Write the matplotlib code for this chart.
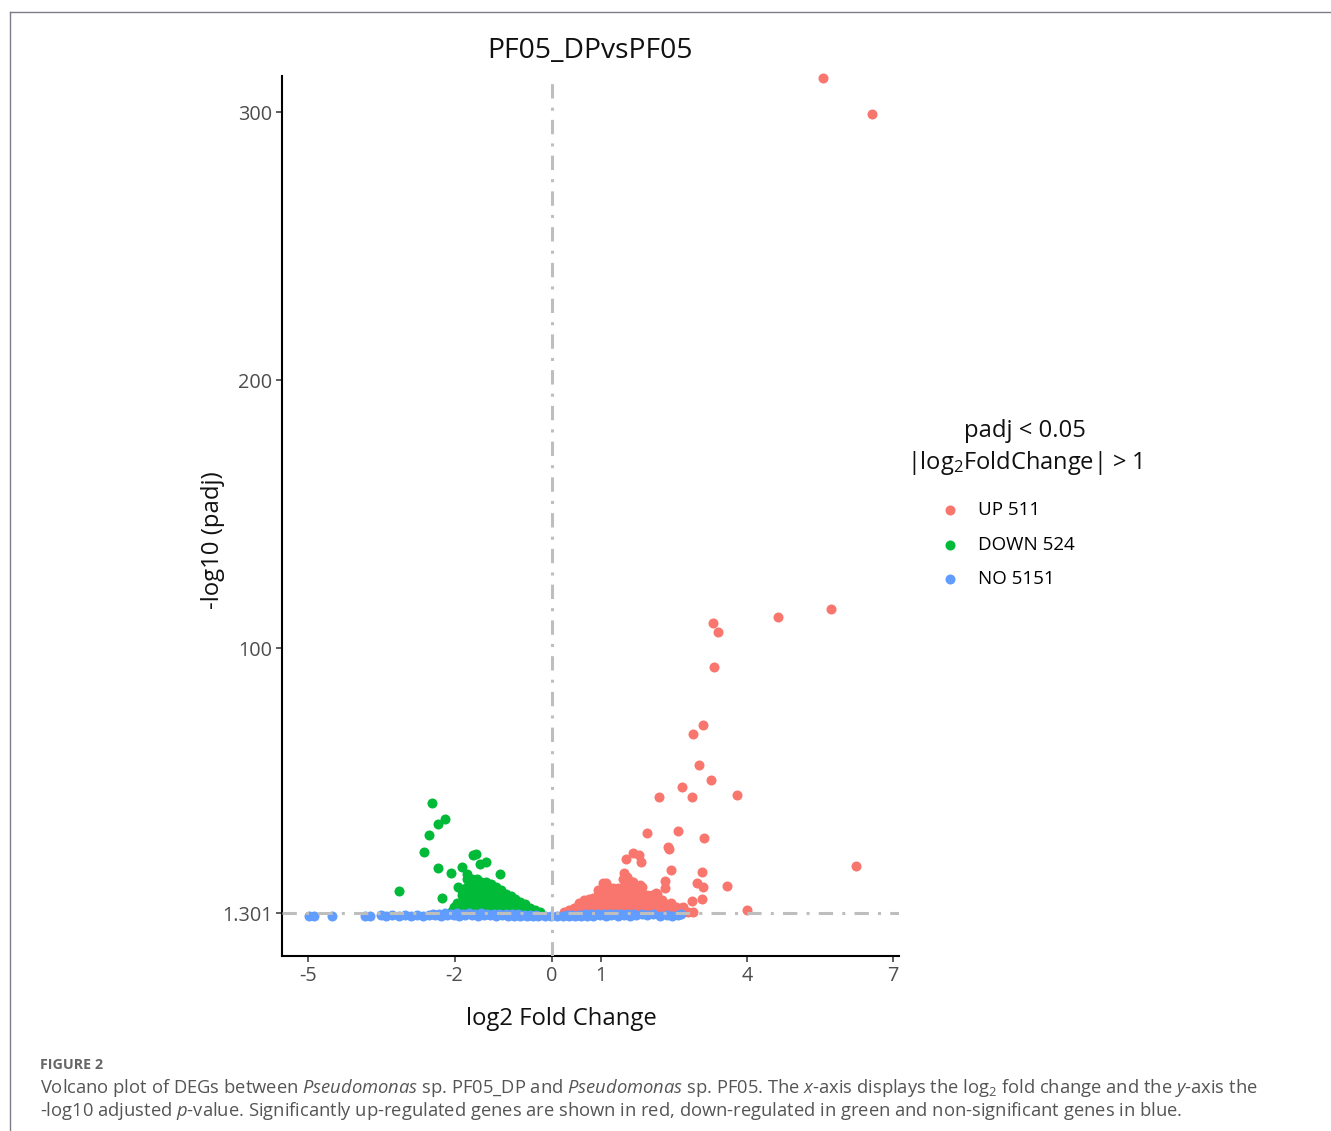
import matplotlib
matplotlib.use("Agg")
import matplotlib.pyplot as plt
from matplotlib.lines import Line2D

plt.rcParams['font.family'] = ['Open Sans', 'DejaVu Sans']
plt.rcParams['mathtext.fontset'] = 'custom'
plt.rcParams['mathtext.rm'] = 'Open Sans'
plt.rcParams['mathtext.it'] = 'Open Sans:italic'
plt.rcParams['mathtext.bf'] = 'Open Sans:bold'

# ---------------- data ----------------
up_x = [5.56, 6.57, 5.73, 4.64, 3.31, 3.41, 3.33, 3.10, 2.90, 3.02, 2.67, 3.26, 2.20, 3.80, 2.87,
        2.59, 1.95, 3.12, 2.38, 2.40, 6.24, 1.66, 1.78, 1.83, 1.52, 2.44, 3.08, 1.48, 1.54, 1.11,
        1.66, 1.81, 2.32, 2.32, 2.98, 3.10, 3.59, 2.14, 3.08, 2.44, 2.87, 2.69, 2.90, 4.00,
        0.25, 0.35, 0.35, 0.45, 0.45, 0.55, 0.55, 0.55, 0.65, 0.65, 0.65, 0.75, 0.75, 0.75,
        0.85, 0.85, 0.85, 0.95, 0.95, 0.95, 0.95, 1.05, 1.05, 1.05, 1.05, 1.05, 1.15, 1.15,
        1.15, 1.15, 1.25, 1.25, 1.25, 1.25, 1.35, 1.35, 1.35, 1.35, 1.45, 1.45, 1.45, 1.45,
        1.45, 1.55, 1.55, 1.55, 1.55, 1.55, 1.65, 1.65, 1.65, 1.65, 1.65, 1.75, 1.75, 1.75,
        1.75, 1.85, 1.85, 1.85, 1.85, 1.95, 1.95, 1.95, 2.05, 2.05, 2.05, 2.15, 2.15, 2.15,
        2.25, 2.25, 2.25, 2.35, 2.35, 2.45, 2.45, 2.55, 2.55, 2.65, 2.65, 2.80]
up_y = [312.9, 299.6, 114.7, 111.8, 109.5, 106.2, 93.1, 71.5, 68.1, 56.6, 48.4, 51.0, 44.6, 45.3, 44.6,
        31.9, 31.2, 29.3, 25.9, 25.2, 18.8, 23.7, 23.0, 20.3, 21.5, 17.4, 16.6, 16.2, 14.7, 12.5,
        12.9, 11.8, 13.2, 10.6, 12.5, 11.0, 11.4, 8.8, 6.4, 5.0, 5.8, 3.5, 1.7, 2.6,
        1.5, 1.6, 2.5, 1.7, 3.0, 1.8, 3.5, 5.0, 2.0, 4.0, 6.0, 2.0, 4.5, 6.5,
        2.0, 4.5, 7.0, 2.0, 5.0, 8.0, 10.0, 2.0, 5.0, 8.0, 11.0, 12.5, 2.0, 5.0,
        8.0, 11.0, 2.0, 5.0, 8.0, 10.5, 2.0, 5.0, 8.0, 10.5, 2.0, 5.0, 8.0, 11.0,
        14.0, 2.0, 5.0, 8.0, 11.0, 14.5, 2.0, 5.0, 8.0, 11.0, 13.0, 2.0, 5.0, 8.0,
        11.0, 2.0, 5.0, 8.0, 11.0, 2.0, 5.0, 8.0, 2.0, 5.0, 8.0, 2.0, 5.0, 8.5,
        2.0, 4.5, 6.0, 2.0, 4.5, 2.0, 4.0, 1.8, 3.5, 1.7, 3.0, 1.6]

down_x = [-2.46, -2.34, -2.20, -2.53, -2.63, -2.34, -3.14, -2.26, -2.07, -1.62, -1.56, -1.85,
          -1.48, -1.36, -1.07, -1.75, -1.93, -1.81, -2.01, -1.58,
          -2.05, -1.95, -1.95, -1.85, -1.85, -1.85, -1.85, -1.75, -1.75, -1.75, -1.75, -1.75,
          -1.65, -1.65, -1.65, -1.65, -1.65, -1.55, -1.55, -1.55, -1.55, -1.55,
          -1.45, -1.45, -1.45, -1.45, -1.45, -1.35, -1.35, -1.35, -1.35, -1.35,
          -1.25, -1.25, -1.25, -1.25, -1.25, -1.15, -1.15, -1.15, -1.15,
          -1.05, -1.05, -1.05, -1.05, -0.95, -0.95, -0.95, -0.85, -0.85, -0.85,
          -0.75, -0.75, -0.75, -0.65, -0.65, -0.65, -0.55, -0.55, -0.55,
          -0.45, -0.45, -0.35, -0.35, -0.25]
down_y = [42.4, 34.5, 36.4, 30.4, 24.1, 18.1, 9.5, 6.9, 16.3, 23.0, 23.3, 18.5,
          19.4, 20.3, 15.9, 15.7, 11.0, 10.3, 3.5, 7.1,
          2.0, 2.0, 5.0, 2.0, 5.0, 8.0, 10.0, 2.0, 5.0, 8.0, 11.0, 14.0,
          2.0, 5.0, 8.0, 11.0, 14.0, 2.0, 5.0, 8.0, 11.0, 14.0,
          2.0, 5.0, 8.0, 11.0, 13.0, 2.0, 5.0, 8.0, 11.0, 13.0,
          2.0, 5.0, 8.0, 11.0, 12.0, 2.0, 5.0, 8.0, 11.0,
          2.0, 5.0, 8.0, 10.0, 2.0, 5.0, 8.5, 2.0, 4.5, 7.5,
          2.0, 4.5, 6.5, 2.0, 4.0, 5.5, 1.8, 3.5, 4.5,
          1.7, 3.0, 1.6, 2.4, 1.5]

no_x = [-4.99, -4.89, -4.52, -3.84, -3.74, -3.51,
        -3.40, -3.28, -3.15, -3.02, -2.90, -2.78, -2.65, -2.52, -2.40, -2.28, -2.15, -2.02,
        -1.90, -1.78, -1.65, -1.52, -1.40, -1.28, -1.15, -1.02, -0.90, -0.78, -0.65, -0.52,
        -0.40, -0.28, -0.15, -0.02, 0.10, 0.22, 0.35, 0.48, 0.60, 0.72, 0.85, 0.98,
        1.10, 1.22, 1.35, 1.48, 1.60, 1.72,
        -2.45, -2.33, -2.20, -2.08, -1.95, -1.83, -1.70, -1.58, -1.45, -1.33, -1.20, -1.08,
        -0.95, -0.83, -0.70, -0.58, -0.45, -0.33, 0.30, 0.42, 0.55, 0.67, 0.80, 0.92,
        1.05, 1.17, 1.30, 1.42, 1.55, 1.67,
        1.85, 1.95, 2.07, 2.22, 2.36, 2.46, 2.59, 2.65]
no_y = [0.3, 0.3, 0.2, 0.3, 0.3, 0.4,
        0.3, 0.4, 0.3, 0.4, 0.3, 0.4, 0.3, 0.5, 0.4, 0.3, 0.5, 0.4,
        0.3, 0.5, 0.4, 0.3, 0.5, 0.4, 0.3, 0.4, 0.3, 0.2, 0.3, 0.2,
        0.2, 0.1, 0.1, 0.0, 0.1, 0.1, 0.2, 0.2, 0.3, 0.2, 0.3, 0.4,
        0.3, 0.4, 0.3, 0.4, 0.3, 0.4,
        1.0, 1.1, 1.2, 1.1, 1.2, 1.1, 1.2, 1.1, 1.2, 1.1, 1.0, 1.1,
        1.0, 0.9, 0.8, 0.7, 0.6, 0.5, 0.5, 0.6, 0.7, 0.8, 0.9, 1.0,
        1.0, 1.1, 1.0, 1.1, 1.0, 0.9,
        0.8, 0.5, 1.0, 0.3, 0.5, 0.3, 0.4, 1.1]

x_ticks = [-5, -2, 0, 1, 4, 7]
y_ticks = [1.301, 100, 200, 300]
y_tick_labels = ["1.301", "100", "200", "300"]
legend_labels = ["UP 511", "DOWN 524", "NO 5151"]
colors = ["#F8766D", "#00BA38", "#619CFF"]
padj_cut = 1.301
fc_line = 0

# ---------------- figure ----------------
W, H = 1331, 1131
fig = plt.figure(figsize=(W / 100, H / 100), dpi=100)
ax = fig.add_axes([282 / W, 1 - 956 / H, (899 - 282) / W, (956 - 76) / H])
ax.set_xlim(-5.544, 7.125)
ax.set_ylim(-14.74, 313.6)

s = 52
h_up = ax.scatter(up_x, up_y, s=s, c=colors[0], linewidths=0, zorder=2, clip_on=False)
h_down = ax.scatter(down_x, down_y, s=s, c=colors[1], linewidths=0, zorder=2, clip_on=False)
h_no = ax.scatter(no_x, no_y, s=s, c=colors[2], linewidths=0, zorder=2, clip_on=False)

ls = (0, (4.7, 3.0, 1.0, 3.0))
ax.axhline(padj_cut, color="#BEBEBE", lw=2.2, ls=ls, zorder=3)
ax.axvline(fc_line, color="#BEBEBE", lw=2.2, ls=ls, zorder=3)

for sp in ["top", "right"]:
    ax.spines[sp].set_visible(False)
for sp in ["left", "bottom"]:
    ax.spines[sp].set_linewidth(1.5)
    ax.spines[sp].set_color("black")

ax.set_xticks(x_ticks)
ax.set_xticklabels([str(v) for v in x_ticks])
ax.set_yticks(y_ticks)
ax.set_yticklabels(y_tick_labels)
ax.tick_params(axis="both", length=4, width=1.1, color="#333333", labelsize=14.3,
               labelcolor="#4D4D4D", pad=3)

fig.text(590 / W, 1 - 51 / H, "PF05_DPvsPF05", ha="center", va="center", fontsize=20.3, color="#111111")
fig.text(561 / W, 1 - 1019 / H, "log2 Fold Change", ha="center", va="center", fontsize=17.2, color="#111111")
fig.text(213 / W, 1 - 540 / H, "-log10 (padj)", ha="center", va="center", rotation=90, fontsize=17.2, color="#111111")

# legend
fig.text(1025 / W, 1 - 431 / H, "padj < 0.05", ha="center", va="center", fontsize=17.1, color="#111111")
fig.text(1025 / W, 1 - 463 / H, "|log$_2$FoldChange| > 1", ha="center", va="center", fontsize=17.0, color="#111111")
leg = ax.legend([h_up, h_down, h_no], legend_labels, loc="upper left",
                bbox_to_anchor=(941 / W, 1 - 501 / H), bbox_transform=fig.transFigure,
                frameon=False, fontsize=13.5, handlelength=0.95, handletextpad=1.05,
                labelspacing=0.88, borderpad=0, borderaxespad=0, scatterpoints=1)

# frame lines
fig.add_artist(Line2D([10 / W, 10 / W], [0, 1 - 12 / H], transform=fig.transFigure, color="#7C7C8A", lw=1))
fig.add_artist(Line2D([10 / W, 1], [1 - 12 / H, 1 - 12 / H], transform=fig.transFigure, color="#7C7C8A", lw=1))

# caption
fig.text(40 / W, 1 - 1065 / H, "FIGURE 2", ha="left", va="center", fontsize=10.3, fontweight="bold", color="#666666")
fig.text(40 / W, 1 - 1088 / H,
         r"Volcano plot of DEGs between $\mathit{Pseudomonas}$ sp. PF05_DP and $\mathit{Pseudomonas}$ sp. PF05. "
         r"The $\mathit{x}$-axis displays the log$_2$ fold change and the $\mathit{y}$-axis the",
         ha="left", va="center", fontsize=13.2, color="#555555")
fig.text(40 / W, 1 - 1111 / H,
         r"-log10 adjusted $\mathit{p}$-value. Significantly up-regulated genes are shown in red, "
         r"down-regulated in green and non-significant genes in blue.",
         ha="left", va="center", fontsize=13.2, color="#555555")

fig.savefig("out.png", dpi=100)
